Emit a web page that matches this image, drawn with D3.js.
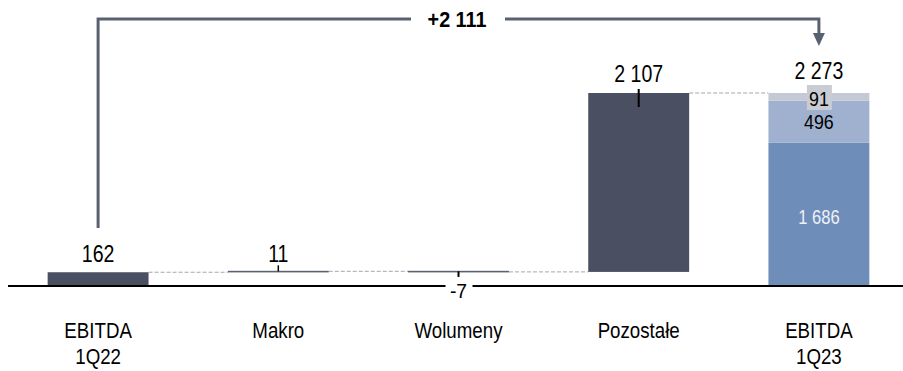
<!DOCTYPE html>
<html><head><meta charset="utf-8">
<script src="https://cdn.jsdelivr.net/npm/d3@7"></script>
<style>
html,body{margin:0;padding:0;background:#fff;}
text{font-family:"Liberation Sans",Arial,sans-serif;}
</style></head>
<body><svg id="c" width="903" height="371"></svg>
<script>
const categories = ["EBITDA|1Q22", "Makro", "Wolumeny", "Pozostałe", "EBITDA|1Q23"];
const startValue = 162;
const deltas = [11, -7, 2107];
const endStack = [1686, 496, 91];
const stackColors = ["#6e8db9", "#9fb1cf", "#c4c9d5"];
const diffLabel = "+2 111";

const loc = d3.formatLocale({decimal: ",", thousands: " ", grouping: [3], currency: ["", ""], minus: "-"});
const fmt = loc.format(",d");

const svg = d3.select("#c");
const x = d3.scaleBand().domain(categories).range([8, 909]).paddingInner(0.44).paddingOuter(0.22);
const endTotal = d3.sum(endStack);
const y = d3.scaleLinear().domain([0, endTotal]).range([286, 93]);
const bw = x.bandwidth();
const dark = "#4a5061";

function label(px, py, txt, size, sx, opts = {}) {
  const g = svg.append("g").attr("transform", `translate(${px},${py}) scale(${sx},1)`);
  const t = g.append("text").attr("x", 0).attr("y", 0).attr("text-anchor", "middle")
    .attr("font-size", size).attr("fill", opts.fill || "#000").text(txt);
  if (opts.bold) t.attr("font-weight", "bold");
  return t;
}

// build steps
let cum = startValue;
const steps = [{cat: categories[0], from: 0, to: startValue, v: startValue}];
deltas.forEach((d, i) => { steps.push({cat: categories[i + 1], from: cum, to: cum + d, v: d}); cum += d; });

// connectors
for (let i = 0; i < steps.length; i++) {
  const yv = steps[i].to;
  svg.append("line").attr("x1", x(steps[i].cat) + bw).attr("x2", x(categories[i + 1]))
    .attr("y1", y(yv)).attr("y2", y(yv))
    .attr("stroke", "#a6a6a6").attr("stroke-width", 1).attr("stroke-dasharray", "4,2");
}

// bars
steps.forEach(s => {
  const top = y(Math.max(s.from, s.to)), bot = y(Math.min(s.from, s.to));
  const small = Math.abs(s.v) < 50;
  svg.append("rect").attr("x", x(s.cat)).attr("width", bw)
    .attr("y", small ? top - 0.5 : top).attr("height", Math.max(small ? 1.6 : 0, bot - top))
    .attr("fill", small ? "#5a6272" : dark);
});

// stacked end bar
let acc = 0;
endStack.forEach((v, i) => {
  svg.append("rect").attr("x", x(categories[4])).attr("width", bw)
    .attr("y", y(acc + v)).attr("height", y(acc) - y(acc + v)).attr("fill", stackColors[i]);
  acc += v;
});

// axis
svg.append("line").attr("x1", 8).attr("x2", 903).attr("y1", y(0)).attr("y2", y(0))
  .attr("stroke", "#000").attr("stroke-width", 2);

const cx = c => x(c) + bw / 2;
const VS = 23, VX = 0.85;

label(cx(steps[0].cat), 262, fmt(startValue), VS, VX);

// Makro tick + label
svg.append("line").attr("x1", cx(steps[1].cat)).attr("x2", cx(steps[1].cat))
  .attr("y1", y(steps[1].to) - 6).attr("y2", y(steps[1].to)).attr("stroke", "#000").attr("stroke-width", 1.5);
label(cx(steps[1].cat), 262, fmt(steps[1].v), VS, VX);

// Wolumeny tick + label with white bg
svg.append("line").attr("x1", cx(steps[2].cat)).attr("x2", cx(steps[2].cat))
  .attr("y1", y(steps[2].from)).attr("y2", y(steps[2].to) + 5).attr("stroke", "#000").attr("stroke-width", 2);
svg.append("rect").attr("x", cx(steps[2].cat) - 13).attr("y", 282).attr("width", 27).attr("height", 10).attr("fill", "#fff");
label(cx(steps[2].cat), 298, fmt(steps[2].v), 21, 0.92);

// Pozostale tick + label
svg.append("line").attr("x1", cx(steps[3].cat)).attr("x2", cx(steps[3].cat))
  .attr("y1", y(steps[3].to) - 4).attr("y2", y(steps[3].to) + 14).attr("stroke", "#000").attr("stroke-width", 2);
label(cx(steps[3].cat), 82, fmt(steps[3].v), VS, VX);

// end labels
const ec = cx(categories[4]);
label(ec, 78.5, fmt(endTotal), VS, VX);
svg.append("rect").attr("x", ec - 12).attr("y", 85).attr("width", 25).attr("height", 25).attr("fill", "#c9ccd3");
label(ec, 106, fmt(endStack[2]), 21, VX);
label(ec, 129, fmt(endStack[1]), 21, VX);
label(ec, 224, fmt(endStack[0]), 19.5, VX, {fill: "#eef1f6"});

// category labels
categories.forEach(c => {
  c.split("|").forEach((p, i) => label(cx(c), 338 + i * 26, p, 21.5, 0.87));
});

// bracket
const bc = "#596170";
const lx = cx(categories[0]), rx = cx(categories[4]);
svg.append("path").attr("d", `M${lx},228 V19 H411`).attr("fill", "none").attr("stroke", bc).attr("stroke-width", 3);
svg.append("path").attr("d", `M505,19 H${rx} V34`).attr("fill", "none").attr("stroke", bc).attr("stroke-width", 3);
svg.append("path").attr("d", `M${rx - 6},33 L${rx + 6},33 L${rx},46 Z`).attr("fill", bc);
label(457, 27, diffLabel, 21.5, 0.92, {bold: true});
</script></body></html>
